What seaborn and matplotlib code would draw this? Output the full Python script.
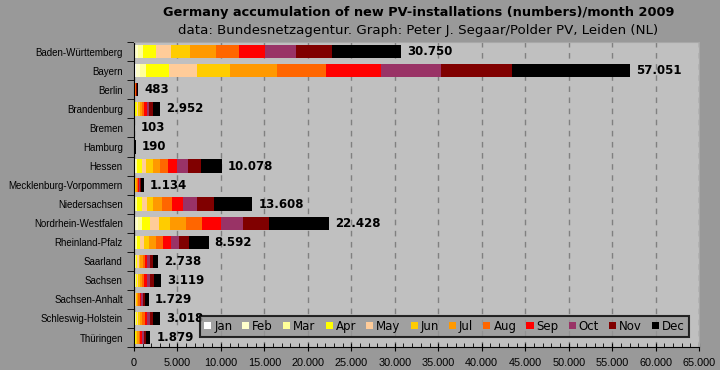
import pandas as pd
import matplotlib
matplotlib.use("Agg")
import matplotlib.pyplot as plt
from matplotlib.patches import Patch
from matplotlib.ticker import MultipleLocator, FuncFormatter
import seaborn as sns

# -------------------------------
# Data (new PV installations per month, 2009)
# -------------------------------
states = ["Baden-Württemberg", "Bayern", "Berlin", "Brandenburg", "Bremen",
          "Hamburg", "Hessen", "Mecklenburg-Vorpommern", "Niedersachsen",
          "Nordrhein-Westfalen", "Rheinland-Pfalz", "Saarland", "Sachsen",
          "Sachsen-Anhalt", "Schleswig-Holstein", "Thüringen"]

months = ["Jan", "Feb", "Mar", "Apr", "May", "Jun",
          "Jul", "Aug", "Sep", "Oct", "Nov", "Dec"]
month_colors = ["#ffffff", "#ffffcc", "#ffff99", "#ffff00", "#ffcc99", "#ffcc00",
                "#ff9900", "#ff6600", "#ff0000", "#993366", "#800000", "#000000"]

jan = [180, 260, 5, 30, 2, 3, 70, 10, 70, 160, 70, 40, 40, 20, 40, 20]
feb = [310, 440, 10, 50, 3, 5, 120, 20, 110, 270, 110, 70, 60, 30, 60, 30]
mar = [510, 730, 15, 90, 4, 8, 190, 40, 200, 460, 200, 110, 100, 50, 100, 60]
apr = [1530, 2570, 20, 130, 5, 10, 500, 50, 500, 960, 310, 150, 130, 70, 140, 80]
may = [1730, 3210, 25, 160, 6, 12, 500, 60, 580, 1070, 460, 170, 150, 90, 170, 100]
jun = [2190, 3810, 30, 200, 7, 14, 770, 70, 760, 1230, 580, 200, 200, 110, 210, 120]
jul = [3000, 5390, 40, 250, 9, 17, 840, 90, 1000, 1840, 810, 260, 260, 140, 260, 150]
aug = [2650, 5690, 40, 260, 9, 18, 920, 100, 1150, 1840, 810, 260, 270, 150, 270, 160]
sep = [3000, 6340, 50, 290, 10, 20, 1070, 110, 1300, 2220, 920, 280, 300, 170, 300, 190]
oct_ = [3540, 6820, 50, 300, 11, 21, 1230, 120, 1610, 2530, 920, 300, 320, 180, 310, 200]
nov = [4180, 8200, 70, 420, 14, 25, 1530, 150, 1920, 3000, 1150, 360, 440, 230, 340, 250]
dec = [7930, 13591, 128, 772, 23, 37, 2338, 314, 4408, 6848, 2252, 538, 849, 489, 818, 519]

df = pd.DataFrame({"state": states, "Jan": jan, "Feb": feb, "Mar": mar,
                   "Apr": apr, "May": may, "Jun": jun, "Jul": jul, "Aug": aug,
                   "Sep": sep, "Oct": oct_, "Nov": nov, "Dec": dec})

# cumulative totals -> stacked look by drawing the longest bar first
cum = df[months].cumsum(axis=1)
totals = cum["Dec"]

sans = ["Liberation Sans", "DejaVu Sans"]

# -------------------------------
# Plot
# -------------------------------
fig = plt.figure(figsize=(7.2, 3.7), dpi=100, facecolor="#999999")
ax = fig.add_axes([0.186, 0.062, 0.785, 0.824])
ax.set_facecolor("#c0c0c0")

for m, c in zip(reversed(months), reversed(month_colors)):
    sns.barplot(x=cum[m], y=df["state"], orient="h", color=c, saturation=1,
                width=0.7, linewidth=0, ax=ax)

for i, t in enumerate(totals):
    ax.text(t + 700, i, f"{t:,}".replace(",", "."), va="center", ha="left",
            fontsize=8.5, fontweight="bold", color="black")

ax.set_xlim(0, 65000)
ax.set_xlabel("")
ax.set_ylabel("")
ax.xaxis.set_major_locator(MultipleLocator(5000))
ax.xaxis.set_minor_locator(MultipleLocator(1000))
ax.xaxis.set_major_formatter(FuncFormatter(lambda v, p: f"{int(v):,}".replace(",", ".")))
ax.tick_params(axis="x", which="major", direction="inout", length=6, pad=5)
ax.tick_params(axis="x", which="minor", direction="in", length=3)
for lab in ax.get_xticklabels():
    lab.set_family(sans)
    lab.set_fontsize(7.8)

ax.set_yticks(range(len(states)))
ax.set_yticks([i - 0.5 for i in range(len(states) + 1)], minor=True)
ax.tick_params(axis="y", which="major", length=0, pad=8)
ax.tick_params(axis="y", which="minor", direction="out", length=5)
for lab in ax.get_yticklabels():
    lab.set_family(sans)
    lab.set_fontsize(7.0)

ax.grid(axis="x", which="major", linestyle=(0, (4, 4)), color="#808080", linewidth=1)
ax.set_axisbelow(True)

for s in ["left", "bottom"]:
    ax.spines[s].set_color("black")
for s in ["top", "right"]:
    ax.spines[s].set_color("#a8a8a8")

handles = [Patch(facecolor=c, edgecolor="none", label=m)
           for m, c in zip(months, month_colors)]
leg = ax.legend(handles=handles, ncol=12, loc="lower right",
                bbox_to_anchor=(0.982, 0.033), prop={"size": 8.5},
                frameon=True, handlelength=0.6, handleheight=0.6,
                handletextpad=0.25, columnspacing=0.85, borderpad=0.35,
                borderaxespad=0, fancybox=False)
leg.get_frame().set_facecolor("#999999")
leg.get_frame().set_edgecolor("black")
leg.get_frame().set_linewidth(1.5)

fig.text(0.581, 0.967, "Germany accumulation of new PV-installations (numbers)/month 2009",
         ha="center", va="center", fontsize=9.3, fontweight="bold")
fig.text(0.581, 0.918, "data: Bundesnetzagentur. Graph: Peter J. Segaar/Polder PV, Leiden (NL)",
         ha="center", va="center", fontsize=9.6)

fig.savefig("out.png", dpi=100, facecolor=fig.get_facecolor())
